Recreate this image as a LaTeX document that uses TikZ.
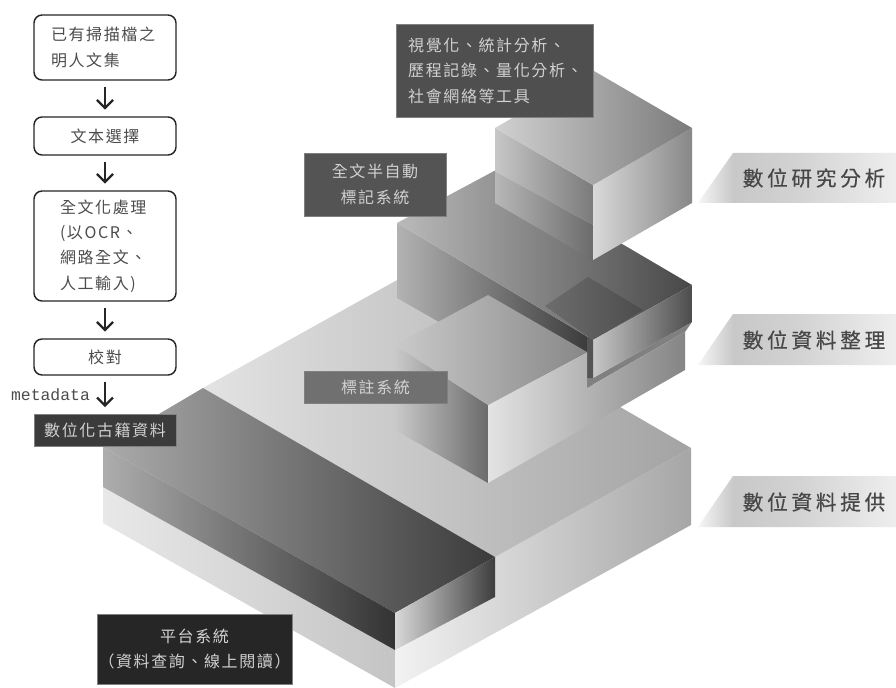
\documentclass[tikz,border=0pt]{standalone}
\usepackage{fontspec}
\usetikzlibrary{arrows.meta}
\newfontfamily\cjk[LetterSpace=10]{Noto Sans CJK TC}
\newfontfamily\cjkwide[LetterSpace=18,FakeBold=0.4]{Noto Sans CJK TC}
\newfontfamily\monof{Liberation Mono}
\definecolor{tgA}{HTML}{F6F6F6}
\definecolor{tgB}{HTML}{C8C8C8}
\definecolor{tgC}{HTML}{D2D2D2}
\definecolor{tgD}{HTML}{EEEEEE}
\pgfdeclarehorizontalshading{tagshade}{100bp}{color(0bp)=(tgA); color(25bp)=(tgA); color(34bp)=(tgB); color(50bp)=(tgC); color(75bp)=(tgD); color(100bp)=(tgD)}
\tikzset{
  face/.style 2 args={left color=white!#1!black,right color=white!#2!black,draw=none},
  flowbox/.style={draw=black!85,line width=1.1pt,rounded corners=6pt,fill=white,minimum width=106.5pt,inner sep=0pt,text=black!70,font=\cjk\fontsize{12}{19}\selectfont,align=center},
  flowarrow/.style={draw=black!85,line width=1.7pt,-{Straight Barb[length=6pt,width=12pt,line width=1.7pt]},shorten >=5pt,shorten <=5pt},
  darklabel/.style={inner sep=0pt,draw=gray,line width=0.3pt,font=\cjk\fontsize{12}{19}\selectfont,text=white!82!black,align=center},
  tag/.style={shading=tagshade},
  tagtext/.style={inner sep=0pt,text=black!72,font=\cjkwide\fontsize{15.5}{18}\selectfont},
}
\begin{document}
\begin{tikzpicture}[x=0.75pt,y=-0.75pt]
\useasboundingbox (0,0) rectangle (896,688);
\fill[white] (0,0) rectangle (896,688);
% base slab
\shade[face={91}{77}] (103,487) -- (395,650) -- (395,688) -- (103,523) -- cycle;
\shade[face={95}{65}] (495,557) -- (691,448) -- (691,525) -- (395,688) -- (395,650) -- (495,597) -- cycle;
\shade[face={89}{64}] (203,388) -- (399,279) -- (691,448) -- (495,557) -- cycle;
% platform
\shade[face={67}{23}] (203,388) -- (495,557) -- (395,613) -- (103,447) -- cycle;
\shade[face={68}{20}] (103,447) -- (395,613) -- (395,650) -- (103,487) -- cycle;
\shade[face={85}{24}] (395,613) -- (495,557) -- (495,597) -- (395,650) -- cycle;
% middle block
\shade[face={70}{22}] (397,223) -- (593,340) -- (593,410) -- (397,298) -- cycle;
\shade[face={73}{28}] (397,223) -- (496,170) -- (692,285) -- (593,340) -- cycle;
\fill[black,opacity=.15] (588,277) -- (643,310) -- (593,340) -- (545,306) -- cycle;
\fill[white!50!black] (587,378) -- (593,378) -- (692,322) -- (685,332) -- (587,388) -- cycle;
\shade[face={78}{30}] (593,340) -- (692,285) -- (692,322) -- (593,378) -- cycle;
\fill[white!33!black] (587,337) -- (593,340) -- (593,378) -- (587,378) -- cycle;
% annotation block
\shade[face={79}{42}] (395,345) -- (488,405) -- (488,483) -- (395,430) -- cycle;
\shade[face={89}{52}] (488,405) -- (587,352) -- (587,388) -- (685,332) -- (685,370) -- (488,483) -- cycle;
\shade[face={79}{53}] (395,345) -- (488,295) -- (587,352) -- (488,405) -- cycle;
% top block
\shade[face={78}{48}] (495,128) -- (593,185) -- (593,225) -- (495,172) -- cycle;
\shade[face={72}{42}] (495,172) -- (593,225) -- (593,260) -- (495,203) -- cycle;
\shade[face={85}{53}] (593,185) -- (692,128) -- (692,203) -- (593,260) -- cycle;
\shade[face={82}{48}] (495,128) -- (594,71) -- (692,128) -- (593,185) -- cycle;
% dark labels
\node[darklabel,fill=white!31!black,minimum height=69.75pt,align=left,anchor=north west,text width=147.75pt] (tools) at (396,24) {\hspace*{9pt}視覺化、統計分析、\\\hspace*{9pt}歷程記錄、量化分析、\\\hspace*{9pt}社會網絡等工具};
\node[darklabel,fill=white!33!black,minimum width=106.5pt,minimum height=47.25pt] (semi) at (375,184.5) {全文半自動\\標記系統};
\node[darklabel,fill=white!44!black,minimum width=107.25pt,minimum height=24pt] (anno) at (375.5,387) {標註系統};
\node[darklabel,fill=white!15!black,minimum width=146.25pt,minimum height=52.5pt] (plat) at (194.5,649) {平台系統\\（資料查詢、線上閱讀）};
% flow
\node[flowbox,minimum height=48.75pt,align=left,text width=81pt,font=\cjk\fontsize{12}{20}\selectfont] (b1) at (105,47.5) {已有掃描檔之\\明人文集};
\node[flowbox,minimum height=28.5pt] (b2) at (105,136) {文本選擇};
\node[flowbox,minimum height=82.5pt,align=left,text width=67.5pt] (b3) at (105,246) {全文化處理\\(以OCR、\\網路全文、\\人工輸入)};
\node[flowbox,minimum height=27pt] (b4) at (105,357) {校對};
\node[darklabel,fill=white!23!black,minimum width=106.5pt,minimum height=24pt] (digi) at (105,430) {數位化古籍資料};
\draw[flowarrow] (b1) -- (b2);
\draw[flowarrow] (b2) -- (b3);
\draw[flowarrow] (b3) -- (b4);
\draw[flowarrow] (b4) -- (digi);
\node[inner sep=0pt,text=black!70,font=\monof\fontsize{12.3}{14}\selectfont] (meta) at (50.5,395) {metadata};
% tags
\shade[tag] (733,153) -- (896,153) -- (896,203) -- (698,203) -- cycle;
\shade[tag] (733,314) -- (896,314) -- (896,365) -- (698,365) -- cycle;
\shade[tag] (733,476) -- (896,476) -- (896,527) -- (698,527) -- cycle;
\node[tagtext] (t1) at (814,178) {數位研究分析};
\node[tagtext] (t2) at (814,340) {數位資料整理};
\node[tagtext] (t3) at (814,502) {數位資料提供};
\end{tikzpicture}
\end{document}
